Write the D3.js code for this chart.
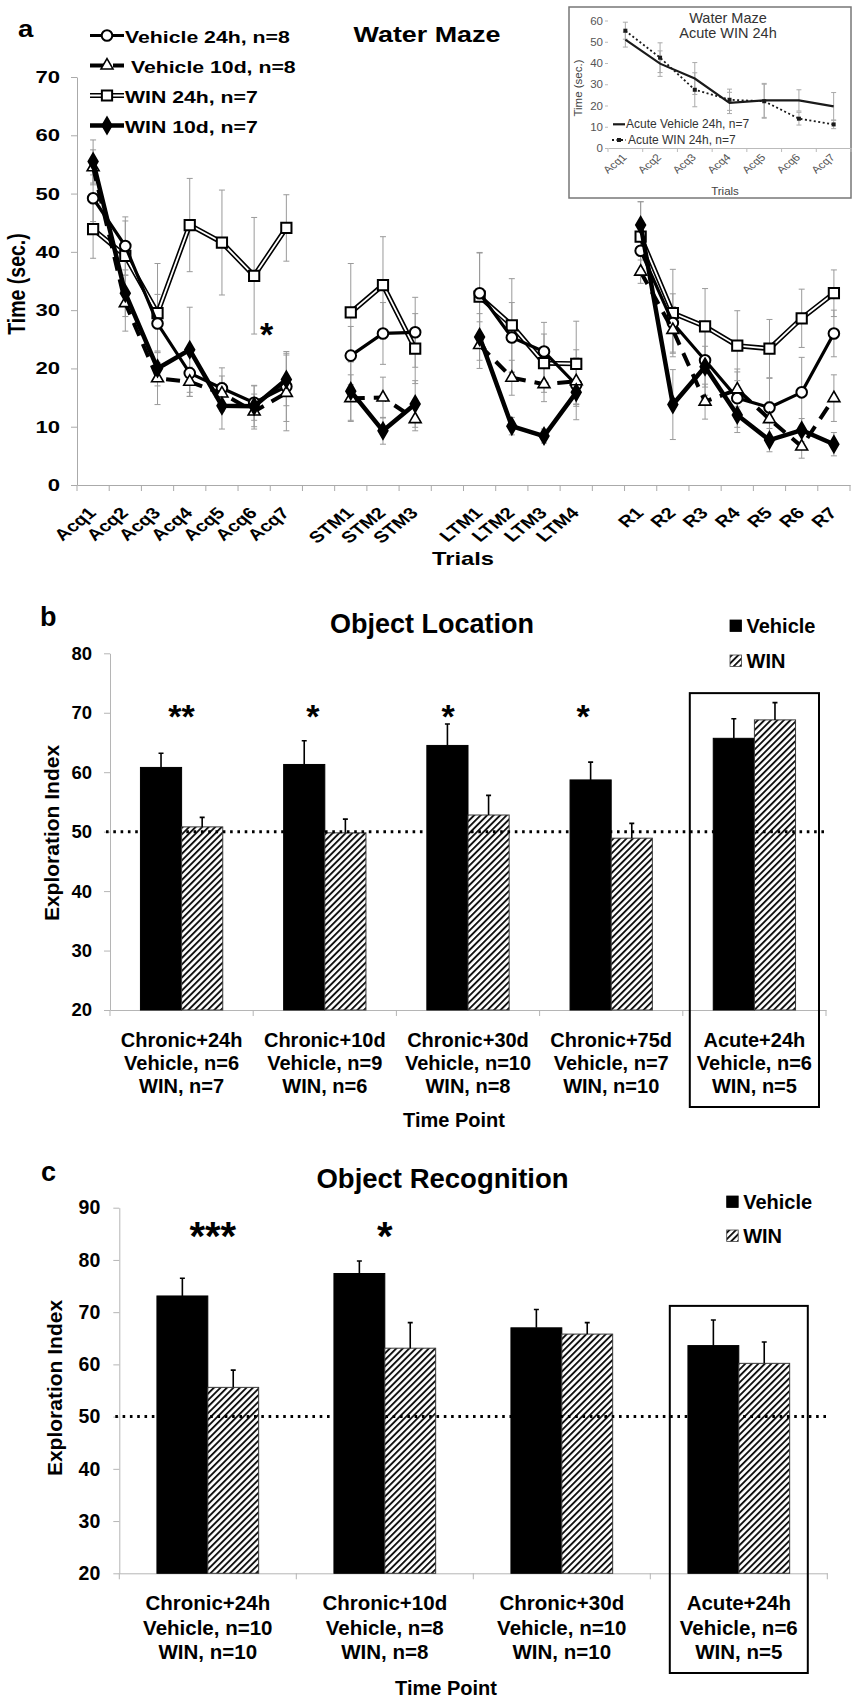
<!DOCTYPE html>
<html>
<head>
<meta charset="utf-8">
<script src="https://cdn.jsdelivr.net/npm/d3@7"></script>
<style>
  body { margin: 0; background: #fff; }
  svg { display: block; }
  text { font-family: "Liberation Sans", Arial, sans-serif; }
</style>
</head>
<body>
<svg id="fig" width="852" height="1698"></svg>
<script>
// ---------- panel a: water maze ----------
const mazeGroups = [
  ["Acq1", "Acq2", "Acq3", "Acq4", "Acq5", "Acq6", "Acq7"],
  ["STM1", "STM2", "STM3"],
  ["LTM1", "LTM2", "LTM3", "LTM4"],
  ["R1", "R2", "R3", "R4", "R5", "R6", "R7"]
];
const mazeTicks = [0, 10, 20, 30, 40, 50, 60, 70];
const mazeNames = ["Vehicle 24h, n=8", " Vehicle 10d, n=8", "WIN 24h, n=7", "WIN 10d, n=7"];

const veh24    = [49.2, 41.0, 27.7, 19.2, 16.6, 14.1, 16.9, 22.2, 26.0, 26.2, 32.9, 25.3, 22.9, 17.2, 40.2, 27.8, 21.4, 14.9, 13.3, 15.9, 26.0];
const veh24Err = [4.0, 5.0, 5.0, 4.0, 3.5, 3.0, 6.0, 5.0, 5.3, 6.0, 7.0, 6.0, 5.0, 6.0, 4.0, 5.0, 6.0, 5.0, 5.0, 6.0, 4.0];
const veh10    = [54.5, 31.2, 18.3, 17.7, 15.7, 12.6, 15.8, 14.9, 15.0, 11.3, 24.0, 18.4, 17.3, 17.8, 36.6, 26.6, 14.3, 16.4, 11.3, 6.6, 14.9];
const veh10Err = [3.0, 4.8, 4.5, 2.5, 3.0, 3.0, 6.5, 4.0, 3.5, 2.0, 4.0, 3.0, 3.0, 4.0, 2.0, 4.0, 3.0, 3.0, 3.0, 2.0, 4.0];
const win24    = [43.9, 39.3, 29.5, 44.6, 41.6, 35.9, 44.1, 29.6, 34.3, 23.4, 32.3, 27.4, 20.9, 20.8, 42.6, 29.5, 27.2, 23.9, 23.4, 28.6, 32.9];
const win24Err = [5.0, 6.0, 8.5, 8.0, 9.0, 10.0, 5.7, 8.4, 8.3, 6.0, 7.5, 8.0, 5.0, 7.3, 6.0, 7.5, 6.5, 6.0, 5.0, 5.0, 4.0];
const win10    = [55.5, 32.9, 20.0, 23.2, 13.6, 13.5, 18.1, 16.1, 9.3, 13.9, 25.4, 10.1, 8.4, 15.9, 44.6, 13.8, 20.3, 12.0, 7.7, 9.4, 7.0];
const win10Err = [3.7, 4.0, 3.0, 7.3, 4.0, 3.5, 4.5, 5.0, 2.3, 4.0, 4.0, 1.5, 1.2, 2.0, 4.0, 6.0, 3.5, 3.0, 2.0, 2.0, 2.0];

// inset: acute WIN
const insetTrials = ["Acq1", "Acq2", "Acq3", "Acq4", "Acq5", "Acq6", "Acq7"];
const insetTicks = [0, 10, 20, 30, 40, 50, 60];
const acuteVeh    = [51.0, 39.7, 32.7, 21.2, 22.4, 22.4, 19.6];
const acuteVehErr = [3.5, 6.0, 7.5, 5.0, 8.0, 5.0, 6.5];
const acuteWin    = [55.2, 42.5, 27.4, 22.7, 22.0, 13.8, 11.1];
const acuteWinErr = [4.0, 7.0, 8.0, 5.0, 8.0, 3.0, 2.0];

// ---------- panel b: object location ----------
const olGroups = ["Chronic+24h", "Chronic+10d", "Chronic+30d", "Chronic+75d", "Acute+24h"];
const olVehN   = ["Vehicle, n=6", "Vehicle, n=9", "Vehicle, n=10", "Vehicle, n=7", "Vehicle, n=6"];
const olWinN   = ["WIN, n=7", "WIN, n=6", "WIN, n=8", "WIN, n=10", "WIN, n=5"];
const olVeh    = [60.8, 61.3, 64.5, 58.7, 65.7];
const olVehErr = [2.4, 4.0, 3.6, 3.0, 3.3];
const olWin    = [50.8, 49.8, 52.8, 48.9, 68.8];
const olWinErr = [1.6, 2.3, 3.3, 2.5, 2.9];
const olStars  = ["**", "*", "*", "*", ""];
const olTicks  = [20, 30, 40, 50, 60, 70, 80];

// ---------- panel c: object recognition ----------
const orGroups = ["Chronic+24h", "Chronic+10d", "Chronic+30d", "Acute+24h"];
const orVehN   = ["Vehicle, n=10", "Vehicle, n=8", "Vehicle, n=10", "Vehicle, n=6"];
const orWinN   = ["WIN, n=10", "WIN, n=8", "WIN, n=10", "WIN, n=5"];
const orVeh    = [73.1, 77.4, 67.0, 63.6];
const orVehErr = [3.4, 2.4, 3.5, 4.9];
const orWin    = [55.6, 63.1, 65.8, 60.2];
const orWinErr = [3.3, 4.9, 2.2, 4.1];
const orStars  = ["***", "*", "", ""];
const orTicks  = [20, 30, 40, 50, 60, 70, 80, 90];

const svg = d3.select("#fig");

const defs = svg.append("defs");
const hatch = defs.append("pattern").attr("id", "hatch")
    .attr("patternUnits", "userSpaceOnUse")
    .attr("width", 4.6).attr("height", 4.6)
    .attr("patternTransform", "rotate(45)");
hatch.append("rect").attr("width", 4.6).attr("height", 4.6).attr("fill", "#fff");
hatch.append("rect").attr("width", 1.9).attr("height", 4.6).attr("fill", "#111");

function styleAxis(sel, color) {
    sel.attr("font-family", null).attr("font-size", null);
    sel.select(".domain").attr("stroke", color);
    sel.selectAll(".tick line").attr("stroke", color);
}

// text with a horizontal stretch (the maze panel is widened in the figure)
function wideText(g, str, x, y, size, k, extra = "") {
    return g.append("text").text(str)
        .attr("font-size", size).attr("font-weight", "bold")
        .attr("transform", `translate(${x},${y}) scale(${k},1) ${extra}`);
}

// ================= panel a =================
const slots = [];
mazeGroups.forEach((grp, i) => { if (i) slots.push("gap" + i); grp.forEach(t => slots.push(t)); });
const trials = mazeGroups.flat();

const xa = d3.scaleBand().domain(slots).range([77, 850]);
const ya = d3.scaleLinear().domain([0, 70]).range([485, 77]);
const ga = svg.append("g");
const cxa = t => xa(t) + xa.bandwidth() / 2;

ga.append("g").attr("transform", "translate(77,0)")
    .call(d3.axisLeft(ya).tickValues(mazeTicks).tickSize(6).tickSizeOuter(0).tickPadding(7))
    .call(styleAxis, "#aaa")
    .call(s => s.selectAll("text").attr("font-size", 17).attr("font-weight", "bold")
        .attr("transform", "scale(1.3,1)"));

ga.append("g").attr("transform", "translate(0,485)")
    .call(d3.axisBottom(xa).tickSize(0).tickSizeOuter(0)
        .tickFormat(d => d.startsWith("gap") ? "" : d))
    .call(styleAxis, "#aaa")
    .call(s => s.selectAll("text").attr("y", null).attr("dy", null)
        .attr("text-anchor", "end").attr("font-size", 16).attr("font-weight", "bold")
        .attr("transform", "translate(4,29) scale(1.25,1) rotate(-45)"));

ga.append("g").selectAll("line")
    .data(slots.map(s => xa(s)).concat([xa.range()[1]]))
    .join("line")
    .attr("x1", d => d).attr("x2", d => d)
    .attr("y1", 485).attr("y2", 491)
    .attr("stroke", "#aaa");

const mazeSeries = [
    {name: mazeNames[2], vals: win24, errs: win24Err, kind: "square"},
    {name: mazeNames[0], vals: veh24, errs: veh24Err, kind: "circle"},
    {name: mazeNames[1], vals: veh10, errs: veh10Err, kind: "triangle"},
    {name: mazeNames[3], vals: win10, errs: win10Err, kind: "diamond"}
];

// error bars
const errG = ga.append("g").attr("stroke", "#9a9a9a").attr("stroke-width", 1).attr("fill", "none");
mazeSeries.forEach(s => {
    trials.forEach((t, i) => {
        const cx = cxa(t);
        const lo = ya(s.vals[i] - s.errs[i]), hi = ya(s.vals[i] + s.errs[i]);
        errG.append("path").attr("d", `M${cx},${lo}V${hi}M${cx - 3},${lo}h6M${cx - 3},${hi}h6`);
    });
});

function drawLine(g, d, kind) {
    if (kind === "square") {
        g.append("path").attr("d", d).attr("fill", "none").attr("stroke", "#000").attr("stroke-width", 5);
        g.append("path").attr("d", d).attr("fill", "none").attr("stroke", "#fff").attr("stroke-width", 1.8);
    } else if (kind === "circle") {
        g.append("path").attr("d", d).attr("fill", "none").attr("stroke", "#000").attr("stroke-width", 3.2);
    } else if (kind === "triangle") {
        g.append("path").attr("d", d).attr("fill", "none").attr("stroke", "#000").attr("stroke-width", 4)
            .attr("stroke-dasharray", "14,9");
    } else {
        g.append("path").attr("d", d).attr("fill", "none").attr("stroke", "#000").attr("stroke-width", 4.5);
    }
}

function drawMarker(g, kind, x, y) {
    if (kind === "circle") {
        g.append("circle").attr("cx", x).attr("cy", y).attr("r", 5.3)
            .attr("fill", "#fff").attr("stroke", "#000").attr("stroke-width", 2);
        return;
    }
    const sym = {square: d3.symbolSquare, triangle: d3.symbolTriangle, diamond: d3.symbolDiamond}[kind];
    const size = {square: 105, triangle: 62, diamond: 75}[kind];
    g.append("path").attr("d", d3.symbol(sym, size)())
        .attr("transform", `translate(${x},${y})`)
        .attr("fill", kind === "diamond" ? "#000" : "#fff")
        .attr("stroke", "#000").attr("stroke-width", kind === "triangle" ? 1.6 : 2);
}

const lineGen = d3.line().defined(d => d).x(d => d.x).y(d => d.y);
mazeSeries.forEach(s => {
    const g = ga.append("g");
    const pts = slots.map(sl => {
        const i = trials.indexOf(sl);
        return i < 0 ? null : {x: cxa(sl), y: ya(s.vals[i])};
    });
    drawLine(g, lineGen(pts), s.kind);
    pts.filter(p => p).forEach(p => drawMarker(g, s.kind, p.x, p.y));
});

// significance mark
ga.append("text").text("*").attr("x", cxa("Acq6") + 12.5).attr("y", 346)
    .attr("text-anchor", "middle").attr("font-size", 34).attr("font-weight", "bold");

// legend
[1, 2, 0, 3].forEach((si, row) => {
    const s = mazeSeries[si];
    const cy = 35.5 + row * 30;
    const g = ga.append("g");
    drawLine(g, `M90,${cy}H124`, s.kind);
    drawMarker(g, s.kind, 107, cy);
    wideText(g, s.name, 125, cy + 7, 17, 1.25).attr("xml:space", "preserve").style("white-space", "pre");
});

wideText(ga, "a", 18, 36.7, 24, 1.15);
wideText(ga, "Water Maze", 427, 41.7, 21.5, 1.25).attr("text-anchor", "middle");
wideText(ga, "Trials", 463, 564.5, 19, 1.25).attr("text-anchor", "middle");
wideText(ga, "Time (sec.)", 25, 284, 19.5, 1.0, "rotate(-90)").attr("text-anchor", "middle")
    .attr("transform", "translate(25,284) scale(1.25,1) rotate(-90)");

// ---------- inset ----------
const gi = svg.append("g");
gi.append("rect").attr("x", 569).attr("y", 7).attr("width", 282).attr("height", 191)
    .attr("fill", "#fff").attr("stroke", "#777").attr("stroke-width", 1.5);
const xi = d3.scaleBand().domain(insetTrials).range([608, 851]);
const yi = d3.scaleLinear().domain([0, 60]).range([148, 20.5]);
const cxi = t => xi(t) + xi.bandwidth() / 2;

gi.append("g").attr("transform", "translate(608,0)")
    .call(d3.axisLeft(yi).tickValues(insetTicks).tickSize(3).tickSizeOuter(0).tickPadding(2))
    .call(styleAxis, "#bbb")
    .call(s => s.select(".domain").remove())
    .call(s => s.selectAll("text").attr("font-size", 11.5).attr("fill", "#555"));
gi.append("g").attr("transform", "translate(0,148)")
    .call(d3.axisBottom(xi).tickSize(0).tickSizeOuter(0))
    .call(styleAxis, "#bbb")
    .call(s => s.selectAll("text").attr("y", null).attr("dy", null)
        .attr("text-anchor", "end").attr("font-size", 10).attr("fill", "#555")
        .attr("transform", "translate(2,10) scale(1.2,1) rotate(-45)"));
gi.append("g").selectAll("line")
    .data(insetTrials.map(t => xi(t)).concat([xi.range()[1]]))
    .join("line")
    .attr("x1", d => d).attr("x2", d => d).attr("y1", 148).attr("y2", 152)
    .attr("stroke", "#bbb");

const insetSeries = [
    {vals: acuteVeh, errs: acuteVehErr, dash: null, width: 2.2},
    {vals: acuteWin, errs: acuteWinErr, dash: "2,2.5", width: 1.8}
];
const errI = gi.append("g").attr("stroke", "#aaa").attr("stroke-width", 1);
insetSeries.forEach(s => insetTrials.forEach((t, i) => {
    const cx = cxi(t), lo = yi(s.vals[i] - s.errs[i]), hi = yi(s.vals[i] + s.errs[i]);
    errI.append("path").attr("d", `M${cx},${lo}V${hi}M${cx - 2.5},${lo}h5M${cx - 2.5},${hi}h5`);
}));
const lineI = d3.line().x((d, i) => cxi(insetTrials[i])).y(d => yi(d));
insetSeries.forEach(s => {
    gi.append("path").attr("d", lineI(s.vals)).attr("fill", "none")
        .attr("stroke", "#1a1a1a").attr("stroke-width", s.width)
        .attr("stroke-dasharray", s.dash);
});
gi.append("g").selectAll("rect").data(acuteWin).join("rect")
    .attr("x", (d, i) => cxi(insetTrials[i]) - 2).attr("y", d => yi(d) - 2)
    .attr("width", 4).attr("height", 4).attr("fill", "#1a1a1a");

gi.append("text").text("Water Maze").attr("x", 728).attr("y", 23)
    .attr("text-anchor", "middle").attr("font-size", 14.5).attr("fill", "#333");
gi.append("text").text("Acute WIN 24h").attr("x", 728).attr("y", 38)
    .attr("text-anchor", "middle").attr("font-size", 14.5).attr("fill", "#333");
gi.append("text").text("Trials").attr("x", 725).attr("y", 195)
    .attr("text-anchor", "middle").attr("font-size", 11.5).attr("fill", "#444");
gi.append("text").text("Time (sec.)").attr("transform", "translate(582,88) rotate(-90)")
    .attr("text-anchor", "middle").attr("font-size", 11.5).attr("fill", "#444");

gi.append("path").attr("d", "M613,124.3H625").attr("stroke", "#1a1a1a").attr("stroke-width", 2.2);
gi.append("text").text("Acute Vehicle 24h, n=7").attr("x", 626).attr("y", 128.3)
    .attr("font-size", 12).attr("fill", "#333");
gi.append("path").attr("d", "M612,140H626").attr("stroke", "#1a1a1a").attr("stroke-width", 1.8)
    .attr("stroke-dasharray", "2,2.5");
gi.append("rect").attr("x", 617).attr("y", 138).attr("width", 4).attr("height", 4).attr("fill", "#1a1a1a");
gi.append("text").text("Acute WIN 24h, n=7").attr("x", 628).attr("y", 144)
    .attr("font-size", 12).attr("fill", "#333");

// ================= bar panels =================
function barPanel(p) {
    const g = svg.append("g");
    const x = d3.scaleBand().domain(p.groups).range(p.xRange);
    const xs = d3.scaleBand().domain(["Vehicle", "WIN"]).range([0, x.bandwidth()]).paddingOuter(0.74);
    const y = d3.scaleLinear().domain(p.yDomain).range(p.yRange);
    const base = y(p.yDomain[0]);
    const mid = d => x(d) + x.bandwidth() / 2;

    g.append("g").attr("transform", `translate(${p.xRange[0]},0)`)
        .call(d3.axisLeft(y).tickValues(p.ticks).tickSize(6).tickSizeOuter(0).tickPadding(p.tickPad))
        .call(styleAxis, "#b5b5b5")
        .call(s => s.selectAll("text").attr("font-size", p.tickFont).attr("font-weight", "bold"));
    g.append("g").attr("transform", `translate(0,${base})`)
        .call(d3.axisBottom(x).tickSize(0).tickSizeOuter(0).tickFormat(""))
        .call(styleAxis, "#b5b5b5");
    g.append("g").selectAll("line")
        .data(p.groups.map(d => x(d)).concat([x.range()[1]]))
        .join("line")
        .attr("x1", d => d).attr("x2", d => d).attr("y1", base).attr("y2", base + 6)
        .attr("stroke", "#b5b5b5");

    const bars = p.groups.flatMap((grp, i) => [
        {grp, key: "Vehicle", v: p.veh[i], e: p.vehErr[i]},
        {grp, key: "WIN", v: p.win[i], e: p.winErr[i]}
    ]);
    g.append("g").selectAll("rect").data(bars).join("rect")
        .attr("x", d => x(d.grp) + xs(d.key)).attr("width", xs.bandwidth())
        .attr("y", d => y(d.v)).attr("height", d => base - y(d.v))
        .attr("fill", d => d.key === "Vehicle" ? "#000" : "url(#hatch)")
        .attr("stroke", d => d.key === "Vehicle" ? "#000" : "#3a3a3a").attr("stroke-width", 1);
    g.append("g").attr("stroke", "#000").attr("stroke-width", 1.6).attr("fill", "none")
        .selectAll("path").data(bars).join("path")
        .attr("d", d => {
            const cx = x(d.grp) + xs(d.key) + xs.bandwidth() / 2, top = y(d.v + d.e);
            return `M${cx},${y(d.v)}V${top}M${cx - 2.5},${top}h5`;
        });

    g.append("line").attr("x1", p.xRange[0] - 4).attr("x2", p.xRange[1])
        .attr("y1", y(50)).attr("y2", y(50))
        .attr("stroke", "#000").attr("stroke-width", 3).attr("stroke-dasharray", "2.6,4.7");

    g.append("g").selectAll("text").data(p.groups).join("text")
        .text((d, i) => p.stars[i])
        .attr("x", (d, i) => mid(d) + p.starDx[i]).attr("y", p.starY)
        .attr("text-anchor", "middle").attr("font-size", p.starFont).attr("font-weight", "bold");

    const lab = g.append("g").selectAll("text").data(p.groups).join("text")
        .attr("text-anchor", "middle").attr("font-size", p.labFont).attr("font-weight", "bold");
    lab.selectAll("tspan").data((d, i) => [d, p.vehN[i], p.winN[i]]).join("tspan")
        .attr("x", function () { return mid(d3.select(this.parentNode).datum()); })
        .attr("y", (d, j) => base + p.labTop + j * p.labStep)
        .text(d => d);

    const last = p.groups[p.groups.length - 1];
    g.append("rect")
        .attr("x", x(last) + p.boxInset).attr("width", x.bandwidth() - 2 * p.boxInset)
        .attr("y", y(p.boxTop)).attr("height", base + p.boxBelow - y(p.boxTop))
        .attr("fill", "none").attr("stroke", "#000").attr("stroke-width", 2);

    g.append("text").text("Time Point").attr("x", p.xTitle[0]).attr("y", p.xTitle[1])
        .attr("text-anchor", "middle").attr("font-size", 20).attr("font-weight", "bold");
    g.append("text").text("Exploration Index")
        .attr("transform", `translate(${p.yTitle[0]},${p.yTitle[1]}) rotate(-90)`)
        .attr("text-anchor", "middle").attr("font-size", 21).attr("font-weight", "bold");
    g.append("text").text(p.title).attr("x", p.titlePos[0]).attr("y", p.titlePos[1])
        .attr("text-anchor", "middle").attr("font-size", p.titleFont).attr("font-weight", "bold");
    g.append("text").text(p.letter).attr("x", p.letterPos[0]).attr("y", p.letterPos[1])
        .attr("font-size", 27).attr("font-weight", "bold");

    ["Vehicle", "WIN"].forEach((k, i) => {
        const ly = p.legend[1] + i * p.legend[2];
        g.append("rect").attr("x", p.legend[0]).attr("y", ly).attr("width", 11.5).attr("height", 11.5)
            .attr("fill", k === "Vehicle" ? "#000" : "url(#hatch)")
            .attr("stroke", k === "Vehicle" ? "#000" : "#444").attr("stroke-width", 0.8);
        g.append("text").text(k).attr("x", p.legend[0] + 16.5).attr("y", ly + 12.5)
            .attr("font-size", 20).attr("font-weight", "bold");
    });
}

barPanel({
    groups: olGroups, vehN: olVehN, winN: olWinN,
    veh: olVeh, vehErr: olVehErr, win: olWin, winErr: olWinErr,
    stars: olStars, starDx: [0, -12, -20, -28], starY: 728, starFont: 34,
    ticks: olTicks, yDomain: [20, 80], yRange: [1010, 653.3], xRange: [110, 826],
    tickPad: 12, tickFont: 18.5, labFont: 20, labTop: 37, labStep: 23,
    boxInset: 7, boxTop: 73.3, boxBelow: 97,
    xTitle: [454, 1127], yTitle: [59, 833],
    title: "Object Location", titlePos: [432, 632.7], titleFont: 27,
    letter: "b", letterPos: [40, 626], legend: [730, 620, 35]
});

barPanel({
    groups: orGroups, vehN: orVehN, winN: orWinN,
    veh: orVeh, vehErr: orVehErr, win: orWin, winErr: orWinErr,
    stars: orStars, starDx: [5, 0, 0, 0], starY: 1250, starFont: 40,
    ticks: orTicks, yDomain: [20, 90], yRange: [1573.3, 1207.7], xRange: [119.3, 827.3],
    tickPad: 13, tickFont: 19.5, labFont: 20.5, labTop: 36.7, labStep: 24.5,
    boxInset: 19.5, boxTop: 71.2, boxBelow: 99.7,
    xTitle: [446, 1695], yTitle: [61.5, 1388],
    title: "Object Recognition", titlePos: [442.5, 1188], titleFont: 27.5,
    letter: "c", letterPos: [41, 1181], legend: [726.7, 1196, 34]
});
</script>
</body>
</html>
